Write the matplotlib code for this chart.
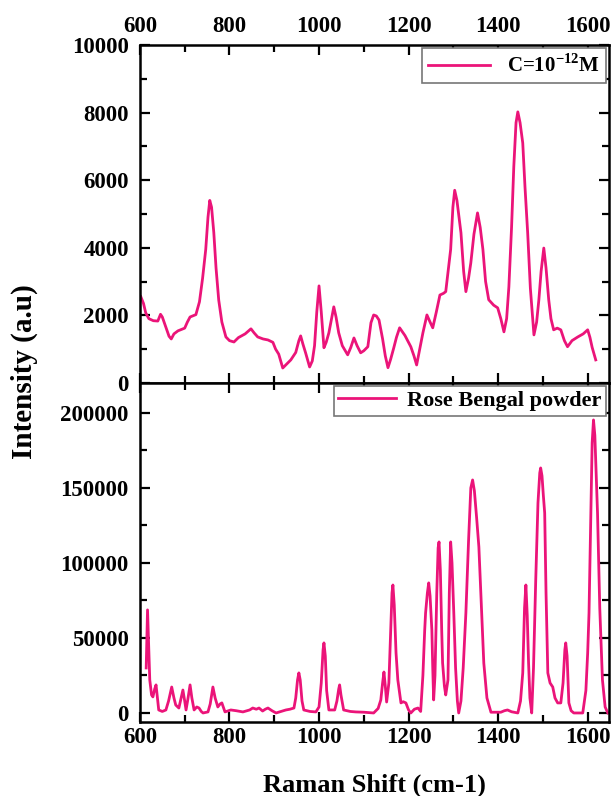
import matplotlib
matplotlib.use('Agg')
import matplotlib.pyplot as plt
from matplotlib.ticker import MultipleLocator

plt.rcParams['font.family'] = ['Liberation Serif', 'DejaVu Serif']
plt.rcParams['font.weight'] = 'bold'
plt.rcParams['mathtext.fontset'] = 'custom'
plt.rcParams['mathtext.rm'] = 'Liberation Serif:bold'
plt.rcParams['mathtext.bf'] = 'Liberation Serif:bold'

line_color = '#EB1479'

# SERS spectrum, C = 1e-12 M
shift_low = [602, 608, 613, 620, 630, 640, 646, 650, 658, 665, 670, 676, 685, 700, 706,
             712, 725, 733, 740, 747, 752, 756, 760, 765, 770, 776, 783, 792, 800, 810,
             820, 835, 848, 855, 863, 875, 886, 897, 903, 910, 919, 928, 937, 948, 955,
             959, 964, 970, 979, 985, 990, 995, 1000, 1005, 1011, 1016, 1022, 1028, 1033,
             1038, 1044, 1052, 1064, 1071, 1078, 1085, 1093, 1100, 1109, 1116, 1122, 1128,
             1134, 1142, 1148, 1154, 1160, 1167, 1173, 1180, 1192, 1205, 1212, 1218, 1225,
             1232, 1241, 1248, 1254, 1262, 1270, 1278, 1283, 1290, 1294, 1299, 1303, 1308,
             1317, 1323, 1328, 1334, 1339, 1346, 1354, 1360, 1366, 1372, 1379, 1390, 1399,
             1406, 1413, 1419, 1424, 1430, 1435, 1440, 1444, 1449, 1455, 1460, 1466, 1472,
             1480, 1486, 1491, 1496, 1502, 1507, 1513, 1518, 1524, 1532, 1540, 1548, 1555,
             1565, 1578, 1590, 1600, 1605, 1610, 1618]
inten_low = [2550, 2350, 2070, 1900, 1840, 1830, 2030, 1950, 1650, 1380, 1300, 1450, 1540,
             1620, 1800, 1950, 2020, 2400, 3100, 3950, 4900, 5400, 5200, 4450, 3400, 2450,
             1800, 1360, 1250, 1210, 1340, 1450, 1600, 1480, 1360, 1300, 1270, 1200, 1000,
             850, 440, 560, 680, 900, 1250, 1390, 1150, 890, 470, 650, 1100, 2100, 2870,
             2100, 1040, 1200, 1480, 1900, 2250, 1950, 1480, 1100, 830, 1050, 1330, 1100,
             890, 950, 1070, 1780, 2010, 1980, 1860, 1300, 800, 450, 700, 1040, 1350, 1630,
             1400, 1070, 800, 530, 1000, 1480, 2010, 1800, 1630, 2100, 2600, 2650, 2700,
             3500, 3950, 5200, 5700, 5400, 4440, 3300, 2700, 3100, 3550, 4400, 5030, 4600,
             3950, 3000, 2460, 2300, 2220, 1900, 1510, 1900, 2840, 4600, 6400, 7700, 8020,
             7700, 7100, 5800, 4440, 2800, 1420, 1800, 2460, 3300, 3990, 3400, 2460, 1900,
             1570, 1620, 1570, 1250, 1070, 1250, 1360, 1450, 1570, 1350, 1050, 680]

# Rose Bengal powder spectrum
shift_powder = [614, 617, 620, 622, 626, 629, 633, 636, 639, 642, 650, 658, 664, 671, 676,
                680, 687, 692, 696, 700, 703, 707, 712, 716, 721, 727, 732, 737, 741, 752,
                757, 763, 768, 774, 779, 783, 790, 803, 815, 830, 845, 852, 860, 866, 874,
                880, 886, 895, 904, 915, 926, 935, 944, 948, 952, 955, 958, 962, 966, 980,
                993, 1000, 1005, 1009, 1011, 1014, 1017, 1022, 1035, 1040, 1044, 1046, 1049,
                1055, 1070, 1082, 1100, 1122, 1132, 1138, 1142, 1145, 1148, 1151, 1156, 1160,
                1163, 1165, 1168, 1172, 1176, 1183, 1188, 1194, 1200, 1205, 1213, 1221, 1227,
                1232, 1236, 1238, 1242, 1245, 1248, 1252, 1254, 1256, 1259, 1263, 1266, 1268,
                1271, 1274, 1276, 1280, 1283, 1288, 1291, 1294, 1297, 1301, 1305, 1309, 1312,
                1317, 1322, 1328, 1334, 1339, 1343, 1347, 1352, 1357, 1362, 1368, 1375, 1384,
                1406, 1414, 1421, 1430, 1444, 1450, 1455, 1459, 1462, 1465, 1468, 1471, 1475,
                1479, 1484, 1489, 1493, 1495, 1498, 1501, 1504, 1507, 1511, 1516, 1522, 1527,
                1533, 1540, 1545, 1549, 1551, 1554, 1558, 1563, 1569, 1589, 1596, 1600, 1603,
                1607, 1610, 1613, 1616, 1619, 1622, 1627, 1633, 1639, 1645]
inten_powder = [30000, 68700, 40000, 22000, 12000, 10700, 16000, 18700, 10000, 2000, 1000,
                2000, 8000, 17300, 10000, 5300, 3300, 10000, 15300, 8000, 2000, 9000, 18700,
                10000, 2000, 4000, 3300, 1000, 0, 700, 6000, 17300, 10000, 4000, 6000, 6700,
                700, 2000, 1500, 700, 2000, 3300, 2500, 3300, 1300, 2500, 3300, 1500, 0, 1000,
                2000, 2500, 3300, 10000, 22000, 26700, 22000, 8000, 2000, 1000, 700, 4000,
                20000, 42000, 46700, 38000, 15000, 2000, 2000, 8000, 16000, 18700, 12000, 2000,
                1000, 700, 500, 0, 3000, 8700, 20000, 27300, 18000, 7300, 20000, 55000, 80000,
                85300, 72000, 40000, 22000, 6700, 7500, 6700, 2000, 0, 2500, 3300, 1000, 25000,
                55000, 66700, 80000, 86700, 78000, 55300, 30000, 8700, 25000, 80000, 110000,
                114000, 95000, 55000, 33300, 18000, 12000, 22000, 80000, 114000, 100000, 66700,
                30000, 8000, 0, 8000, 30000, 66700, 115000, 150000, 155300, 148000, 130000,
                110700, 75000, 33300, 10000, 500, 500, 1500, 2000, 800, 0, 8000, 26700, 70000,
                85300, 65000, 33300, 10000, 0, 30000, 88700, 140000, 160000, 163300, 158000,
                145000, 133300, 80000, 26700, 20000, 17300, 10000, 6700, 6700, 20000, 42000,
                46700, 38000, 6700, 1500, 0, 0, 15000, 40000, 66700, 130000, 180000, 195300,
                185000, 160000, 133300, 70000, 22000, 4000, 0]

x_ticks = [600, 800, 1000, 1200, 1400, 1600]

fig = plt.figure(figsize=(6.11, 7.96), dpi=100)
ax1 = fig.add_axes([0.229, 0.519, 0.768, 0.4245])
ax2 = fig.add_axes([0.229, 0.093, 0.768, 0.426])

ax1.plot(shift_low, inten_low, color=line_color, lw=2.0, label='C=10$^{-12}$M')
ax2.plot(shift_powder, inten_powder, color=line_color, lw=2.0, label='Rose Bengal powder')

ax1.set_ylim(0, 10000)
ax1.yaxis.set_major_locator(MultipleLocator(2000))
ax1.yaxis.set_minor_locator(MultipleLocator(1000))
ax2.set_ylim(-6000, 220000)
ax2.set_yticks([0, 50000, 100000, 150000, 200000])
ax2.yaxis.set_minor_locator(MultipleLocator(25000))

for ax in (ax1, ax2):
    ax.set_xlim(600, 1648)
    ax.set_xticks(x_ticks)
    ax.xaxis.set_minor_locator(MultipleLocator(100))
    ax.tick_params(which='both', direction='in', top=True, right=True,
                   labelsize=16.5, width=1.6)
    ax.tick_params(which='major', length=7)
    ax.tick_params(which='minor', length=5)
    ax.tick_params(axis='y', pad=8)
    for s in ax.spines.values():
        s.set_linewidth(1.8)

leg1 = ax1.legend(loc='upper right', fontsize=15, handlelength=3.0,
                  fancybox=False, borderpad=0.3, borderaxespad=0.15,
                  framealpha=1, edgecolor='#777777')
leg2 = ax2.legend(loc='upper right', fontsize=16, handlelength=2.6,
                  fancybox=False, borderpad=0.2, borderaxespad=0.15,
                  handletextpad=0.5, framealpha=1, edgecolor='#777777')
for leg in (leg1, leg2):
    leg.get_frame().set_linewidth(1.2)

ax1.tick_params(labeltop=True, labelbottom=False)
ax1.tick_params(axis='x', pad=6)
fig.text(0.613, 0.013, 'Raman Shift (cm-1)', fontsize=19, fontweight='bold',
         ha='center', va='center')
fig.text(0.04, 0.533, 'Intensity (a.u)', rotation=90, fontsize=21,
         fontweight='bold', ha='center', va='center')

fig.savefig('out.png', dpi=100)
